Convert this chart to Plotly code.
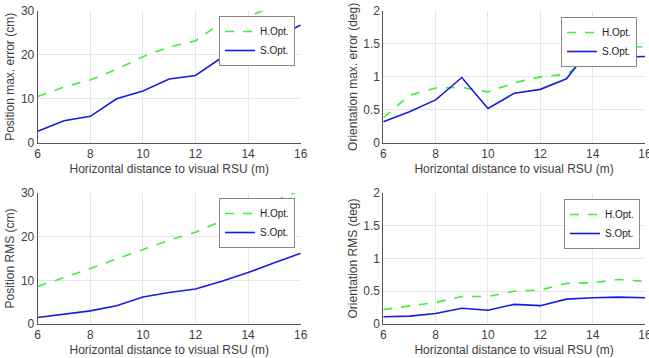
import plotly.graph_objects as go

distance = [6, 7, 8, 9, 10, 11, 12, 13, 14, 15, 16]

pos_max_h = [10.5, 12.7, 14.3, 16.7, 19.6, 21.8, 23.2, 27.4, 28.7, 31.2, 33.0]
pos_max_s = [2.6, 5.0, 6.0, 10.0, 11.8, 14.5, 15.3, 19.4, 20.7, 23.8, 26.8]

ori_max_h = [0.38, 0.72, 0.83, 0.84, 0.77, 0.91, 1.00, 1.04, 1.32, 1.48, 1.45]
ori_max_s = [0.32, 0.47, 0.65, 0.99, 0.52, 0.75, 0.81, 0.97, 1.48, 1.30, 1.31]

pos_rms_h = [8.6, 10.6, 12.7, 14.9, 17.0, 19.2, 21.0, 23.6, 25.8, 28.1, 30.6]
pos_rms_s = [1.5, 2.3, 3.0, 4.2, 6.2, 7.2, 8.0, 9.8, 11.8, 14.0, 16.2]

ori_rms_h = [0.22, 0.28, 0.33, 0.42, 0.42, 0.50, 0.52, 0.62, 0.63, 0.68, 0.65]
ori_rms_s = [0.11, 0.12, 0.16, 0.24, 0.21, 0.30, 0.28, 0.38, 0.40, 0.41, 0.40]

x_title = "Horizontal distance to visual RSU (m)"
panels = [
    (pos_max_h, pos_max_s, "Position max. error (cm)", [0, 30], 10, "x", "y", "legend"),
    (ori_max_h, ori_max_s, "Orientation max. error (deg)", [0, 2], 0.5, "x2", "y2", "legend2"),
    (pos_rms_h, pos_rms_s, "Position RMS (cm)", [0, 30], 10, "x3", "y3", "legend3"),
    (ori_rms_h, ori_rms_s, "Orientation RMS (deg)", [0, 2], 0.5, "x4", "y4", "legend4"),
]

GREEN = "#3cf03c"
BLUE = "#1a1ae0"
TXT = "#404040"
FONT = "Liberation Sans, Arial, sans-serif"

fig = go.Figure()
for h, s, yt, yr, dt, xa, ya, lg in panels:
    fig.add_trace(go.Scatter(x=distance, y=h, mode="lines", name="H.Opt.",
                             line=dict(color=GREEN, width=1.6, dash="dash"),
                             xaxis=xa, yaxis=ya, legend=lg))
    fig.add_trace(go.Scatter(x=distance, y=s, mode="lines", name="S.Opt.",
                             line=dict(color=BLUE, width=1.6),
                             xaxis=xa, yaxis=ya, legend=lg))

W, H = 649, 358
xdoms = [[37.7 / W, 300.7 / W], [383.3 / W, 645.0 / W]]
ydoms = [[(H - 142.7) / H, (H - 11) / H], [(H - 324) / H, (H - 193) / H]]

layout = dict(
    width=W, height=H,
    margin=dict(l=0, r=0, t=0, b=0),
    paper_bgcolor="white", plot_bgcolor="white",
    font=dict(family=FONT, size=12, color=TXT),
    showlegend=True,
)

for i, (h, s, yt, yr, dt, xa, ya, lg) in enumerate(panels):
    col = i % 2
    row = i // 2
    xk = "xaxis" if i == 0 else f"xaxis{i+1}"
    yk = "yaxis" if i == 0 else f"yaxis{i+1}"
    layout[xk] = dict(
        domain=xdoms[col], anchor=ya, range=[6, 16], dtick=2, tick0=6,
        showgrid=True, gridcolor="#e6e6e6", gridwidth=1,
        showline=True, linecolor="#555555", linewidth=1, mirror=False,
        zeroline=False, ticks="", tickfont=dict(size=12, color=TXT),
        automargin=False, ticklabeloverflow="allow",
        title=dict(text=x_title, font=dict(size=12, color=TXT), standoff=4),
    )
    layout[yk] = dict(
        domain=ydoms[row], anchor=xa, range=yr, dtick=dt, tick0=0,
        showgrid=True, gridcolor="#e6e6e6", gridwidth=1,
        showline=True, linecolor="#555555", linewidth=1, mirror=False,
        zeroline=False, ticks="", tickfont=dict(size=12, color=TXT),
        automargin=False, ticklabeloverflow="allow",
        title=dict(text=yt, font=dict(size=12, color=TXT), standoff=3),
    )

leg_pos = [(295 / W, (H - 16) / H), (637 / W, (H - 17) / H),
           (295 / W, (H - 198) / H), (640 / W, (H - 199) / H)]
for i, (x, y) in enumerate(leg_pos):
    key = "legend" if i == 0 else f"legend{i+1}"
    layout[key] = dict(
        x=x, y=y, xanchor="right", yanchor="top",
        bgcolor="white", bordercolor="#888888", borderwidth=1,
        font=dict(size=10, color="#222222", family=FONT),
        tracegroupgap=0, itemwidth=30,
    )

fig.update_layout(**layout)
fig.write_html("out.html",
               config={"displayModeBar": False},
               post_script="document.body.style.margin='0';document.body.style.overflow='hidden';")
